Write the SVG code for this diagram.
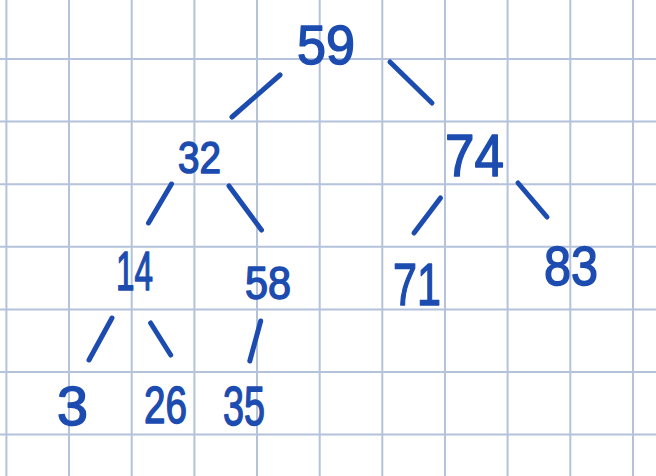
<svg xmlns="http://www.w3.org/2000/svg" width="656" height="476" viewBox="0 0 656 476">
<style>
.grid line{stroke:#b4c2dc;stroke-width:2}
.edge{stroke:#1d4cb0;stroke-width:5;stroke-linecap:round;fill:none}
.lbl{font-family:"Liberation Sans","DejaVu Sans",sans-serif;fill:#1d4cb0;stroke:#1d4cb0;stroke-width:1.5;stroke-linejoin:round}
</style>
<rect width="656" height="476" fill="#ffffff"/>
<g class="grid">
<line x1="6.4" y1="0" x2="6.4" y2="476"/>
<line x1="69" y1="0" x2="69" y2="476"/>
<line x1="131.7" y1="0" x2="131.7" y2="476"/>
<line x1="194.4" y1="0" x2="194.4" y2="476"/>
<line x1="257" y1="0" x2="257" y2="476"/>
<line x1="319.7" y1="0" x2="319.7" y2="476"/>
<line x1="382.3" y1="0" x2="382.3" y2="476"/>
<line x1="445" y1="0" x2="445" y2="476"/>
<line x1="507.6" y1="0" x2="507.6" y2="476"/>
<line x1="570.3" y1="0" x2="570.3" y2="476"/>
<line x1="633" y1="0" x2="633" y2="476"/>
<line x1="0" y1="59" x2="656" y2="59"/>
<line x1="0" y1="121.6" x2="656" y2="121.6"/>
<line x1="0" y1="184.2" x2="656" y2="184.2"/>
<line x1="0" y1="246.8" x2="656" y2="246.8"/>
<line x1="0" y1="309.4" x2="656" y2="309.4"/>
<line x1="0" y1="372" x2="656" y2="372"/>
<line x1="0" y1="434.6" x2="656" y2="434.6"/>
</g>
<g id="connectors">
<line class="edge" x1="232" y1="117" x2="280" y2="75"/>
<line class="edge" x1="390" y1="62" x2="432" y2="103"/>
<line class="edge" x1="171.5" y1="184" x2="148.5" y2="223"/>
<line class="edge" x1="229" y1="186" x2="261.5" y2="230"/>
<line class="edge" x1="440.5" y1="198" x2="414" y2="233"/>
<line class="edge" x1="518" y1="183" x2="547" y2="217"/>
<line class="edge" x1="112" y1="318" x2="89" y2="360"/>
<line class="edge" x1="150.6" y1="323" x2="170.7" y2="355"/>
<line class="edge" x1="260.7" y1="321" x2="249.8" y2="361"/>
</g>
<g id="n59"><text class="lbl" x="297" y="64" font-size="56" textLength="58" lengthAdjust="spacingAndGlyphs">59</text></g>
<g id="n32"><text class="lbl" x="178" y="173" font-size="44" textLength="43" lengthAdjust="spacingAndGlyphs">32</text></g>
<g id="n74"><text class="lbl" x="445" y="176" font-size="59" textLength="59" lengthAdjust="spacingAndGlyphs">74</text></g>
<g id="n14"><text class="lbl" x="116" y="290" font-size="56" textLength="37" lengthAdjust="spacingAndGlyphs">14</text></g>
<g id="n58"><text class="lbl" x="245" y="299" font-size="46" textLength="46" lengthAdjust="spacingAndGlyphs">58</text></g>
<g id="n71"><text class="lbl" x="393" y="305" font-size="60" textLength="48" lengthAdjust="spacingAndGlyphs">71</text></g>
<g id="n83"><text class="lbl" x="544" y="285" font-size="56" textLength="54" lengthAdjust="spacingAndGlyphs">83</text></g>
<g id="n3"><text class="lbl" x="57" y="425" font-size="56" textLength="31" lengthAdjust="spacingAndGlyphs">3</text></g>
<g id="n26"><text class="lbl" x="144" y="423" font-size="52" textLength="43" lengthAdjust="spacingAndGlyphs">26</text></g>
<g id="n35"><text class="lbl" x="223" y="425" font-size="56" textLength="42" lengthAdjust="spacingAndGlyphs">35</text></g>
</svg>
